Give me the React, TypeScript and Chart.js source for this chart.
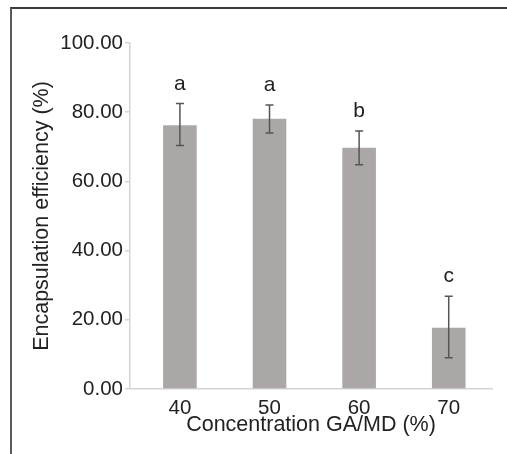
import React, { useEffect, useRef } from "react";
import { Chart, registerables } from "chart.js";

Chart.register(...registerables);

const categories = ["40", "50", "60", "70"];
const meanValues = [76.2, 78.1, 69.7, 17.7];
const errorHigh = [82.5, 82.1, 74.6, 26.8];
const errorLow = [70.4, 74.0, 64.8, 9.0];
const groupLetters = ["a", "a", "b", "c"];
const yTicks = [0, 20, 40, 60, 80, 100];

const FONT = "'Liberation Sans', Arial, Helvetica, sans-serif";
const TEXT = "#222222";
const AXIS = "#d4d4d4";

const errorBarPlugin = {
  id: "errorBars",
  afterDatasetsDraw(chart: any) {
    const ctx = chart.ctx;
    const meta = chart.getDatasetMeta(0);
    const y = chart.scales.y;
    ctx.save();
    meta.data.forEach((bar: any, i: number) => {
      const x = bar.x;
      const yHi = y.getPixelForValue(errorHigh[i]);
      const yLo = y.getPixelForValue(errorLow[i]);
      ctx.strokeStyle = "#555555";
      ctx.lineWidth = 1.5;
      ctx.beginPath();
      ctx.moveTo(x, yHi);
      ctx.lineTo(x, yLo);
      ctx.moveTo(x - 4, yHi);
      ctx.lineTo(x + 4, yHi);
      ctx.moveTo(x - 4, yLo);
      ctx.lineTo(x + 4, yLo);
      ctx.stroke();
      ctx.fillStyle = TEXT;
      ctx.font = `21px ${FONT}`;
      ctx.textAlign = "center";
      ctx.textBaseline = "alphabetic";
      ctx.fillText(groupLetters[i], x, yHi - 14);
    });
    ctx.restore();
  },
};

export default function App() {
  const canvasRef = useRef<HTMLCanvasElement | null>(null);

  useEffect(() => {
    if (!canvasRef.current) return;
    const chart = new Chart(canvasRef.current, {
      type: "bar",
      data: {
        labels: categories,
        datasets: [
          {
            data: meanValues,
            backgroundColor: "#aba7a7",
            borderWidth: 0,
            barPercentage: 0.375,
            categoryPercentage: 1,
          },
        ],
      },
      options: {
        animation: false,
        responsive: true,
        maintainAspectRatio: false,
        layout: { padding: { left: 0, top: 43, right: 15, bottom: 0 } },
        plugins: {
          legend: { display: false },
          tooltip: { enabled: false },
        },
        scales: {
          x: {
            grid: { display: false, drawTicks: false },
            border: { display: true, color: AXIS, width: 1.5 },
            ticks: {
              color: TEXT,
              font: { family: FONT, size: 20.5 },
              padding: 7,
            },
            title: {
              display: true,
              text: "Concentration GA/MD (%)",
              color: TEXT,
              font: { family: FONT, size: 21.5 },
              padding: { top: 0, bottom: 16 },
            },
            afterFit(scale: any) {
              scale.height = 65;
            },
            afterUpdate(scale: any) {
              // category spacing as in the reference: categories sit slightly right of centre
              scale._startValue = -0.557;
              scale._valueRange = 4.04;
            },
          },
          y: {
            min: 0,
            max: 100,
            afterBuildTicks(scale: any) {
              scale.ticks = yTicks.map((v) => ({ value: v }));
            },
            grid: {
              drawOnChartArea: false,
              drawTicks: true,
              tickLength: 5,
              tickColor: AXIS,
              lineWidth: 1.5,
            },
            border: { display: true, color: AXIS, width: 1.5 },
            ticks: {
              color: TEXT,
              font: { family: FONT, size: 20.5 },
              padding: 2,
              callback: (v: any) => Number(v).toFixed(2),
            },
            title: {
              display: true,
              text: "Encapsulation efficiency (%)",
              color: TEXT,
              font: { family: FONT, size: 21.5 },
              padding: { top: 29, bottom: 0 },
            },
            afterFit(scale: any) {
              scale.width = 130;
            },
          },
        },
      },
      plugins: [errorBarPlugin],
    });
    return () => chart.destroy();
  }, []);

  return (
    <div style={{ position: "fixed", left: 0, top: 0, width: 507, height: 454, background: "#fff" }}>
      <div
        style={{
          position: "absolute",
          left: 10,
          top: 7,
          right: 0,
          bottom: 0,
          borderLeft: "2px solid #5a5a5a",
          borderTop: "2px solid #3a3a3a",
          pointerEvents: "none",
        }}
      />
      <canvas ref={canvasRef} style={{ position: "absolute", left: 0, top: 0 }} />
    </div>
  );
}
